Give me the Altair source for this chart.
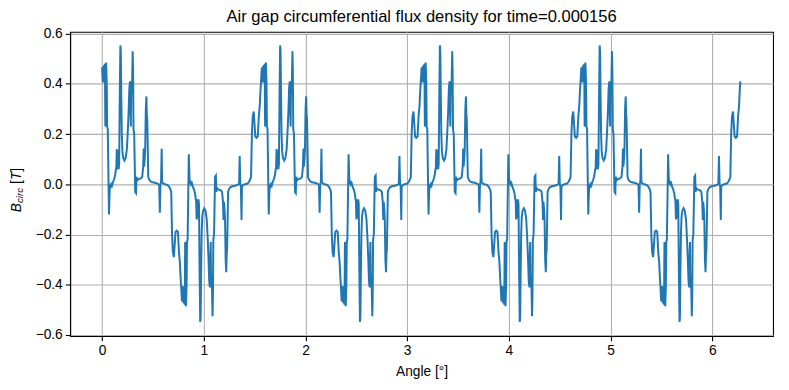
import altair as alt
import pandas as pd

FONT = "Liberation Sans"

# One period (0 .. pi/2) of the waveform
period_angle = [
    0.000, 0.004, 0.008, 0.012, 0.016, 0.020, 0.024, 0.028, 0.032, 0.036,
    0.040, 0.046, 0.050, 0.056, 0.062, 0.068, 0.074, 0.078, 0.084, 0.090,
    0.098, 0.108, 0.118, 0.128, 0.136, 0.140, 0.145, 0.149, 0.153, 0.158,
    0.163, 0.168, 0.174, 0.180, 0.184, 0.189, 0.194, 0.200, 0.208, 0.220,
    0.232, 0.244, 0.254, 0.262, 0.268, 0.272, 0.276, 0.279, 0.283, 0.287,
    0.291, 0.296, 0.301, 0.305, 0.309, 0.316, 0.326, 0.334, 0.338, 0.345,
    0.355, 0.365, 0.380, 0.395, 0.404, 0.409, 0.413, 0.419, 0.424, 0.430,
    0.436, 0.440, 0.444, 0.448, 0.454, 0.462, 0.475, 0.495, 0.520, 0.545,
    0.562, 0.568, 0.574, 0.580, 0.586, 0.590, 0.600, 0.620, 0.645, 0.660,
    0.672, 0.680, 0.688, 0.696, 0.706, 0.714, 0.722, 0.734, 0.746, 0.756,
    0.765, 0.772, 0.778,
    0.785, 0.789, 0.793, 0.797, 0.801, 0.805, 0.809, 0.813, 0.817, 0.821,
    0.825, 0.831, 0.835, 0.841, 0.847, 0.853, 0.859, 0.863, 0.869, 0.875,
    0.883, 0.893, 0.903, 0.913, 0.921, 0.925, 0.930, 0.934, 0.938, 0.943,
    0.948, 0.953, 0.959, 0.965, 0.969, 0.974, 0.979, 0.985, 0.993, 1.005,
    1.017, 1.029, 1.039, 1.047, 1.053, 1.057, 1.061, 1.064, 1.068, 1.072,
    1.076, 1.081, 1.086, 1.090, 1.094, 1.101, 1.111, 1.119, 1.123, 1.130,
    1.140, 1.150, 1.165, 1.180, 1.189, 1.194, 1.198, 1.204, 1.209, 1.215,
    1.221, 1.225, 1.229, 1.233, 1.239, 1.247, 1.260, 1.280, 1.305, 1.330,
    1.347, 1.353, 1.359, 1.365, 1.371, 1.375, 1.385, 1.405, 1.430, 1.445,
    1.457, 1.465, 1.473, 1.481, 1.491, 1.499, 1.507, 1.519, 1.531, 1.541,
    1.550, 1.557, 1.563,
]
period_b = [
    0.465, 0.43, 0.405, 0.47, 0.42, 0.475, 0.41, 0.48, 0.23, 0.47,
    0.485, 0.40, 0.23, 0.22, 0.05, -0.12, -0.03, 0.00, -0.015, 0.00,
    -0.005, 0.01, 0.02, 0.035, 0.06, 0.065, 0.14, 0.06, 0.07, 0.135,
    0.06, 0.08, 0.35, 0.553, 0.53, 0.35, 0.20, 0.13, 0.105, 0.095,
    0.105, 0.14, 0.22, 0.30, 0.38, 0.40, 0.41, 0.30, 0.23, 0.41,
    0.36, 0.42, 0.53, 0.45, 0.22, 0.20, -0.03, -0.035, 0.03, 0.015,
    0.02, 0.022, 0.023, 0.03, 0.07, 0.142, 0.07, 0.10, 0.14, 0.30,
    0.35, 0.28, 0.26, 0.18, 0.03, 0.02, 0.012, 0.008, 0.006, 0.003,
    -0.002, -0.113, 0.00, 0.01, 0.142, 0.01, 0.003, 0.00, -0.003, -0.01,
    -0.02, -0.03, -0.20, -0.27, -0.29, -0.24, -0.19, -0.185, -0.19, -0.27,
    -0.31, -0.37, -0.41,
    -0.465, -0.43, -0.405, -0.47, -0.42, -0.475, -0.41, -0.48, -0.23, -0.47,
    -0.485, -0.40, -0.23, -0.22, -0.05, 0.12, 0.03, 0.00, 0.015, 0.00,
    0.005, -0.01, -0.02, -0.035, -0.06, -0.065, -0.14, -0.06, -0.07, -0.135,
    -0.06, -0.08, -0.35, -0.548, -0.53, -0.35, -0.20, -0.13, -0.105, -0.095,
    -0.105, -0.14, -0.22, -0.30, -0.38, -0.40, -0.41, -0.30, -0.23, -0.41,
    -0.36, -0.42, -0.525, -0.45, -0.22, -0.20, 0.03, 0.035, -0.03, -0.015,
    -0.02, -0.022, -0.023, -0.03, -0.07, -0.142, -0.07, -0.10, -0.14, -0.30,
    -0.35, -0.28, -0.26, -0.18, -0.03, -0.02, -0.012, -0.008, -0.006, -0.003,
    0.002, 0.113, 0.00, -0.01, -0.142, -0.01, -0.003, 0.00, 0.003, 0.01,
    0.02, 0.03, 0.20, 0.27, 0.29, 0.24, 0.19, 0.185, 0.19, 0.27,
    0.31, 0.37, 0.41,
]
period_start = [0.0, 1.5708, 3.1416, 4.7124]

x_ticks = [0, 1, 2, 3, 4, 5, 6]
y_ticks = [-0.6, -0.4, -0.2, 0.0, 0.2, 0.4, 0.6]

rows = []
for s in period_start:
    for a, b in zip(period_angle, period_b):
        rows.append({"angle": round(s + a, 4), "B": b})
df = pd.DataFrame(rows)

W, H = 709.6, 307

x_enc = alt.X(
    "angle:Q",
    scale=alt.Scale(domain=[-0.3142, 6.5974], nice=False, zero=False),
    axis=alt.Axis(values=x_ticks, format="d", title="Angle [°]", titlePadding=7),
)
y_enc = alt.Y(
    "B:Q",
    scale=alt.Scale(domain=[-0.604, 0.607], nice=False, zero=False),
    axis=alt.Axis(values=y_ticks, format=".1f", title=None),
)

line = alt.Chart(df).mark_line(color="#1f77b4", strokeWidth=2, clip=True).encode(
    x=x_enc, y=y_enc
)

def label(txt, x, y, size, style):
    return alt.Chart(pd.DataFrame({"t": [txt]})).mark_text(
        angle=270, align="left", baseline="alphabetic", font=FONT,
        fontSize=size, fontStyle=style, color="black",
    ).encode(x=alt.value(x), y=alt.value(y), text="t:N")

ylab = [
    label("B", -50, 182, 13.9, "italic"),
    label("circ", -47.3, 172.7, 9.7, "italic"),
    label("[", -50, 153.5, 13.9, "normal"),
    label("T", -50, 149.6, 13.9, "italic"),
    label("]", -50, 141.1, 13.9, "normal"),
]

chart = alt.layer(line, *ylab).properties(
    width=W,
    height=H,
    title=alt.TitleParams(
        "Air gap circumferential flux density for time=0.000156",
        font=FONT, fontSize=16.7, fontWeight="normal", color="black",
        anchor="middle", frame="group", offset=1,
    ),
    autosize=alt.AutoSizeParams(type="none"),
    padding={"left": 62.7, "top": 22.3, "right": 8, "bottom": 50},
).configure_view(
    stroke="black", strokeWidth=1.1
).configure_axis(
    domainColor="black", domainWidth=1.1,
    tickColor="black", tickSize=4.9, tickWidth=1.1,
    labelFont=FONT, labelFontSize=13.9, labelColor="black", labelPadding=3,
    titleFont=FONT, titleFontSize=13.9, titleColor="black", titleFontWeight="normal",
    gridColor="#b0b0b0", gridWidth=1.1, grid=True,
)

chart.save("out.html", embed_options={"renderer": "svg", "actions": False})
